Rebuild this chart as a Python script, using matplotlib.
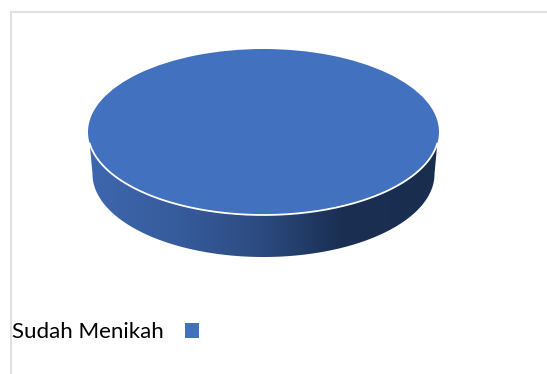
import matplotlib
matplotlib.use('Agg')
import matplotlib.pyplot as plt
import numpy as np
from matplotlib.colors import LinearSegmentedColormap
from matplotlib.lines import Line2D
from matplotlib.patches import Polygon

labels = ['Sudah Menikah']
values = [100]

W, H = 547, 374
PIE_COLOR = '#4271c0'
FRAME_COLOR = '#e0e0e0'

# top face of the pie in pixels: centre and radii
cx, cy = 263.5, 132
rx, ry = 175.5, 83
# lower rim of the cylinder
rim_rx, rim_depth = 171, 42

side_cmap = LinearSegmentedColormap.from_list('side', [
    (0.0, '#3d67ae'),
    (0.25, '#375c9c'),
    (0.5, '#2b4a80'),
    (0.72, '#1a2f52'),
    (1.0, '#192d4f'),
])

fig = plt.figure(figsize=(W / 100, H / 100), dpi=100, facecolor='white')
ax = fig.add_axes([0, 0, 1, 1])

wedges, _ = ax.pie(values, colors=[PIE_COLOR], radius=1, startangle=90)
for w in wedges:
    w.set_zorder(3)

# stretch the unit circle into the flattened top face
ax.set_aspect('auto')
ax.axis('off')

# extruded side: gradient clipped to the band under the front edge
t = np.linspace(np.pi + 0.14, 2 * np.pi - 0.14, 200)
t_rim = np.linspace(2 * np.pi, np.pi, 200)
top_edge = np.column_stack([np.cos(t), np.sin(t)])
rim = np.column_stack([rim_rx / rx * np.cos(t_rim),
                       np.sin(t_rim) - rim_depth / ry])
side = Polygon(np.vstack([top_edge, rim]), closed=True, transform=ax.transData,
               facecolor='none', edgecolor='none')
ax.add_patch(side)
grad = np.linspace(0, 1, 256).reshape(1, -1)
im = ax.imshow(grad, cmap=side_cmap, aspect='auto', zorder=2, extent=(-1, 1, -2, 0))
im.set_clip_path(side)
ax.set_xlim(-cx / rx, (W - cx) / rx)
ax.set_ylim((cy - H) / ry, cy / ry)

# white highlight between the top face and the side
ax.plot(np.cos(t), np.sin(t), color='white', lw=1.3, zorder=4)

# chart frame: only the top and left borders show
fig.add_artist(Line2D([11.3 / W, 11.3 / W], [0, 1 - 11.5 / H], color=FRAME_COLOR, lw=1.5))
fig.add_artist(Line2D([11.3 / W, 1], [1 - 11.5 / H, 1 - 11.5 / H], color=FRAME_COLOR, lw=1.5))

fig.legend(wedges, labels, loc='center left', bbox_to_anchor=(12 / W, 1 - 332.5 / H),
           frameon=False, markerfirst=False, borderpad=0, borderaxespad=0,
           handlelength=0.63, handleheight=0.63, handletextpad=0.95,
           prop={'family': 'Lato', 'size': 16})

fig.savefig('out.png', dpi=100, facecolor='white')
